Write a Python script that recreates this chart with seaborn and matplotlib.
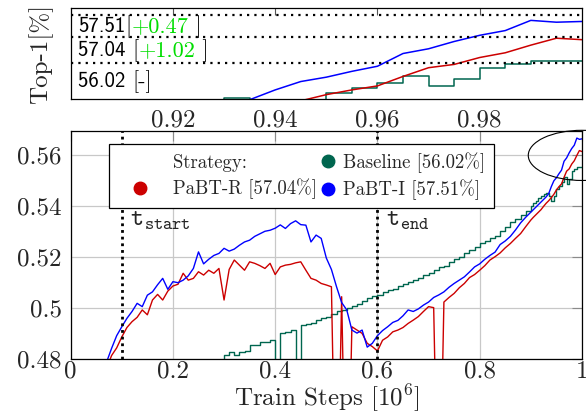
import numpy as np
import pandas as pd
import matplotlib
matplotlib.use("Agg")
import matplotlib.pyplot as plt
import seaborn as sns
from matplotlib.lines import Line2D
from matplotlib.patches import Ellipse
from matplotlib.legend_handler import HandlerBase
from matplotlib.offsetbox import TextArea, HPacker, AnnotationBbox
from matplotlib.ticker import FuncFormatter

# ---------------- data ----------------
steps = np.round(np.concatenate([np.arange(0.07, 0.9001, 0.01),
                                 np.arange(0.905, 1.0001, 0.005)]), 3)

pabt_i = [0.4785, 0.4840, 0.4890, 0.4925, 0.4958, 0.4985, 0.5017, 0.5004, 0.5049, 0.5062,
          0.5090, 0.5115, 0.5072, 0.5102, 0.5098, 0.5108, 0.5125, 0.5154, 0.5219, 0.5172,
          0.5190, 0.5205, 0.5213, 0.5233, 0.5222, 0.5230, 0.5245, 0.5258, 0.5265, 0.5280,
          0.5290, 0.5300, 0.5304, 0.5312, 0.5325, 0.5311, 0.5330, 0.5341, 0.5326, 0.5324,
          0.5258, 0.5285, 0.5272, 0.5195, 0.5150, 0.5082, 0.5020, 0.4991, 0.4912, 0.4900,
          0.4912, 0.4845, 0.4860, 0.4890, 0.4910, 0.4925, 0.4942, 0.4950, 0.4968, 0.4991,
          0.4985, 0.4995, 0.5010, 0.5022, 0.5040, 0.5050, 0.5062, 0.5080, 0.5095, 0.5108,
          0.5121, 0.5140, 0.5160, 0.5172, 0.5190, 0.5205, 0.5218, 0.5248, 0.5262, 0.5280,
          0.5305, 0.5333, 0.5355, 0.5375,
          0.5385, 0.5395, 0.5405, 0.5415, 0.5425, 0.5435, 0.5448, 0.5475, 0.5498, 0.5510,
          0.5526, 0.5540, 0.5575, 0.5588, 0.5608, 0.5625, 0.5638, 0.5666, 0.5661, 0.5663]

pabt_r = [0.4760, 0.4812, 0.4842, 0.4885, 0.4922, 0.4945, 0.4962, 0.4991, 0.4972, 0.5030,
          0.5052, 0.5030, 0.5065, 0.5085, 0.5092, 0.5135, 0.5108, 0.5115, 0.5141, 0.5128,
          0.5147, 0.5135, 0.5154, 0.5030, 0.5150, 0.5187, 0.5167, 0.5147, 0.5180, 0.5174,
          0.5165, 0.5154, 0.5174, 0.5130, 0.5160, 0.5167, 0.5170, 0.5176, 0.5180, 0.5147,
          0.5115, 0.5108, 0.5095, 0.5089, 0.5082, 0.4000, 0.5043, 0.4000, 0.4925, 0.4912,
          0.4899, 0.4860, 0.4847, 0.4830, 0.4872, 0.4885, 0.4905, 0.4912, 0.4922, 0.4938,
          0.4951, 0.4965, 0.4985, 0.5004, 0.5000, 0.4000, 0.5022, 0.5040, 0.5056, 0.5078,
          0.5095, 0.5118, 0.5130, 0.5147, 0.5165, 0.5187, 0.5200, 0.5215, 0.5235, 0.5252,
          0.5272, 0.5291, 0.5318, 0.5344,
          0.5355, 0.5365, 0.5375, 0.5385, 0.5398, 0.5410, 0.5420, 0.5432, 0.5445, 0.5462,
          0.5475, 0.5486, 0.5512, 0.5536, 0.5545, 0.5564, 0.5577, 0.5598, 0.5617, 0.5613]

baseline_start = 0.29
baseline = [0.4700, 0.4815, 0.4825, 0.4815, 0.4827, 0.4830, 0.4853, 0.4855, 0.4866, 0.4866,
            0.4873, 0.4600, 0.4899, 0.4905, 0.4912, 0.4600, 0.4932, 0.4935, 0.4940, 0.4951,
            0.4958, 0.4964, 0.4975, 0.4985, 0.4992, 0.5000, 0.5006, 0.5015, 0.5025, 0.5038,
            0.5045, 0.5049, 0.5060, 0.5069, 0.5075, 0.5085, 0.5092, 0.5100, 0.5108, 0.5118,
            0.5128, 0.5138, 0.5148, 0.5158, 0.5165, 0.5180, 0.5190, 0.5200, 0.5215, 0.5228,
            0.5240, 0.5252, 0.5262, 0.5272, 0.5282, 0.5300, 0.5318, 0.5335, 0.5350, 0.5363,
            0.5380, 0.5400,
            0.5410, 0.5420, 0.5430, 0.5438, 0.5445, 0.5452, 0.5440, 0.5420, 0.5440, 0.5466,
            0.5479, 0.5494, 0.5513, 0.5486, 0.5506, 0.5536, 0.5545, 0.5554, 0.5554, 0.5554]

legend_labels = ["Strategy:", "PaBT-R [57.04%]", "Baseline [56.02%]", "PaBT-I [57.51%]"]
phase_steps = [0.1, 0.6]
phase_names = [r"$\mathtt{t}_{\mathtt{start}}$", r"$\mathtt{t}_{\mathtt{end}}$"]

inset_scores = ["57.51", "57.04 ", "56.02 "]
inset_gains = ["+0.47", "+1.02", None]
inset_ref_lines = [0.5681, 0.5621, 0.5550]
inset_label_y = [0.5649, 0.5583, 0.5498]

main_xticks = [0, 0.2, 0.4, 0.6, 0.8, 1.0]
main_yticks = [0.48, 0.5, 0.52, 0.54, 0.56]
inset_xticks = [0.92, 0.94, 0.96, 0.98]

C_RED = "#cc0000"
C_BLUE = "#0000ff"
C_GREEN = "#00664f"
C_GAIN = "#00dd00"

df_i = pd.DataFrame({"step": steps, "top1": pabt_i})
df_r = pd.DataFrame({"step": steps, "top1": pabt_r})
df_b = pd.DataFrame({"step": steps[steps >= baseline_start - 1e-9], "top1": baseline})

# ---------------- style ----------------
sns.set_theme(style="white")
plt.rcParams.update({
    "font.family": ["cmr10", "DejaVu Serif"],
    "mathtext.fontset": "cm",
    "axes.formatter.use_mathtext": True,
    "axes.unicode_minus": False,
})

fig = plt.figure(figsize=(5.86, 4.19), dpi=100)
ax = fig.add_axes([0.1206, 0.1442, 0.8725, 0.5439])
ax_in = fig.add_axes([0.1206, 0.7637, 0.8725, 0.2172])


def draw_series(a, lw):
    sns.lineplot(data=df_b, x="step", y="top1", ax=a, color=C_GREEN, lw=lw,
                 drawstyle="steps-post", estimator=None, sort=False)
    sns.lineplot(data=df_r, x="step", y="top1", ax=a, color=C_RED, lw=lw,
                 estimator=None, sort=False)
    sns.lineplot(data=df_i, x="step", y="top1", ax=a, color=C_BLUE, lw=lw,
                 estimator=None, sort=False)
    a.set_xlabel("")
    a.set_ylabel("")
    for s in a.spines.values():
        s.set_color("black")
        s.set_linewidth(0.9)


draw_series(ax, 1.0)
draw_series(ax_in, 1.1)

fmt = FuncFormatter(lambda v, p: f"{v:g}")

# main axes
ax.set_xlim(0, 1)
ax.set_ylim(0.48, 0.5695)
ax.set_xticks(main_xticks)
ax.set_yticks(main_yticks)
ax.xaxis.set_major_formatter(fmt)
ax.yaxis.set_major_formatter(fmt)
ax.grid(True, color="#c8c8c8", lw=0.9)
ax.set_axisbelow(True)
ax.tick_params(direction="in", length=7, width=0.8, color="#8a8a8a",
               labelsize=18, top=True, right=True)
ax.tick_params(axis="x", pad=1.5)
ax.tick_params(axis="y", pad=6.5)
ax.set_xlabel("Train Steps [$10^6$]", fontsize=18, labelpad=0)

for xs, name in zip(phase_steps, phase_names):
    ax.axvline(xs, color="black", lw=2, ls=(0, (1, 1.4)), zorder=3)
    ax.text(xs + 0.017, 0.5342, name, fontsize=18, ha="left", va="center", zorder=4)

ax.add_patch(Ellipse((1.0, 0.5598), 0.21, 0.0197, fill=False, ec="black",
                     lw=0.8, clip_on=False, zorder=4))


class MarkerAt(HandlerBase):
    def __init__(self, frac):
        super().__init__()
        self.frac = frac

    def create_artists(self, legend, orig_handle, xdescent, ydescent, width,
                       height, fontsize, trans):
        m = Line2D([-xdescent + self.frac * width], [-ydescent + 0.5 * height],
                   ls="none", marker="o", ms=orig_handle.get_markersize(),
                   mfc=orig_handle.get_markerfacecolor(),
                   mec=orig_handle.get_markeredgecolor())
        m.set_transform(trans)
        return [m]


h_strat = Line2D([], [], ls="none")
h_red = Line2D([], [], ls="none", marker="o", ms=9, mfc=C_RED, mec=C_RED)
h_green = Line2D([], [], ls="none", marker="o", ms=9, mfc=C_GREEN, mec=C_GREEN)
h_blue = Line2D([], [], ls="none", marker="o", ms=9, mfc=C_BLUE, mec=C_BLUE)

leg = ax.legend([h_strat, h_red, h_green, h_blue], legend_labels, ncol=2,
                loc="upper left", bbox_to_anchor=(0.075, 0.9416), borderaxespad=0,
                fontsize=13.5, handlelength=2.656, handletextpad=0.3,
                columnspacing=-1.54, borderpad=0.44, labelspacing=0.35,
                frameon=True, fancybox=False, edgecolor="black", framealpha=1,
                handler_map={h_red: MarkerAt(0.46), h_green: MarkerAt(0.8),
                             h_blue: MarkerAt(0.8)})
leg.get_frame().set_linewidth(0.9)
leg.set_zorder(6)

# inset axes
ax_in.set_xlim(0.9, 1.0)
ax_in.set_ylim(0.545, 0.57)
ax_in.set_xticks(inset_xticks)
ax_in.xaxis.set_major_formatter(fmt)
ax_in.set_yticks([])
ax_in.grid(False)
ax_in.tick_params(axis="x", direction="in", length=5, width=0.8, color="#555555",
                  top=True, labelsize=18, pad=7.5)
ax_in.set_ylabel("Top-1[%]", fontsize=18)
ax_in.yaxis.set_label_coords(-0.034, 0.5)

for yl in inset_ref_lines:
    ax_in.axhline(yl, color="black", lw=1.6, ls=(0, (1, 2.3)), zorder=3)

for score, gain, yl in zip(inset_scores, inset_gains, inset_label_y):
    parts = [TextArea(score, textprops=dict(family="cmss10", size=15, color="black"))]
    if gain is None:
        parts.append(TextArea("[-]", textprops=dict(family="cmr10", size=16, color="black")))
    else:
        parts.append(TextArea("[", textprops=dict(family="cmr10", size=16, color="black")))
        parts.append(TextArea(gain, textprops=dict(family="cmr10", size=16, color=C_GAIN)))
        parts.append(TextArea(" ]", textprops=dict(family="cmr10", size=16, color="black")))
    box = HPacker(children=parts, align="baseline", pad=0, sep=0)
    ab = AnnotationBbox(box, (0.9014, yl), xycoords="data", box_alignment=(0, 0.5),
                        frameon=False, pad=0, zorder=5)
    ax_in.add_artist(ab)

fig.savefig("out.png", dpi=100)
